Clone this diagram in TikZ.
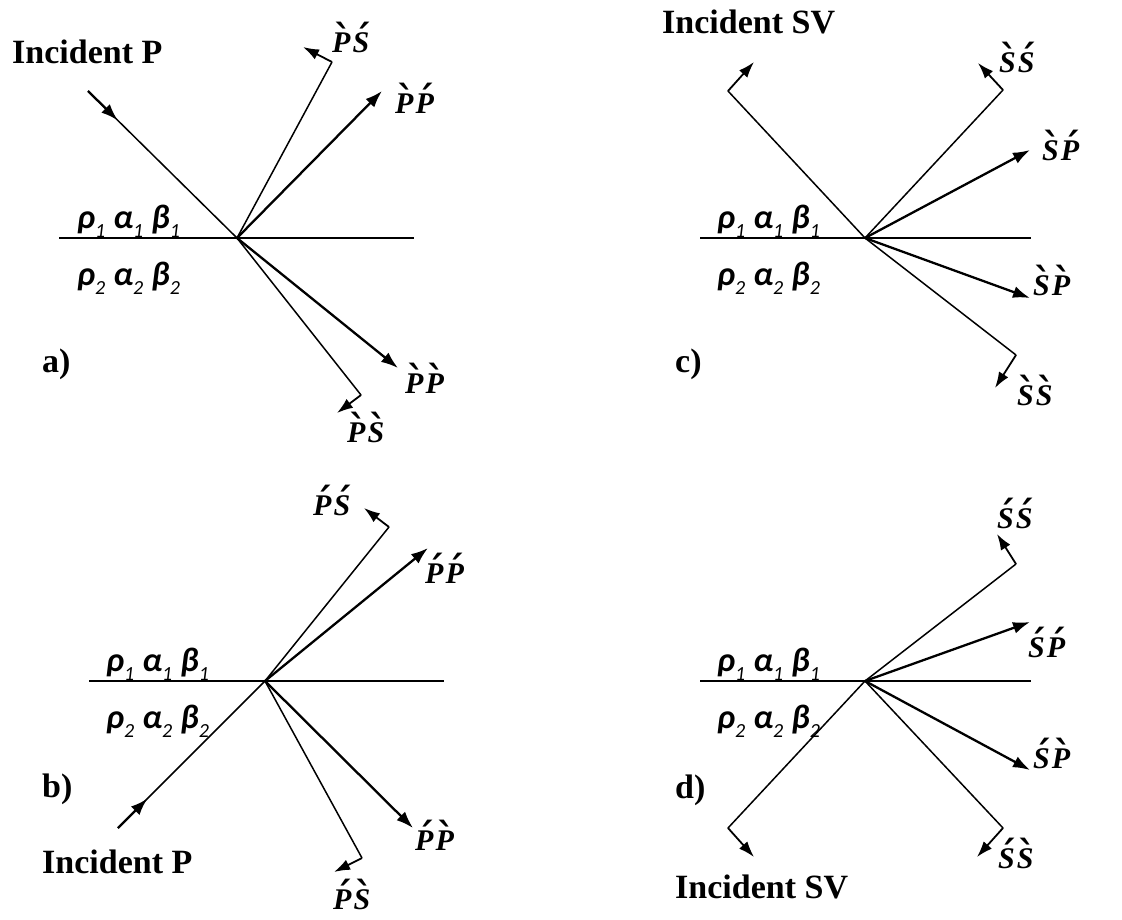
\documentclass[tikz,border=0pt]{standalone}
\usepackage{fontspec}
\setmainfont{Liberation Serif}
\newfontfamily\medfont{Carlito}
\newfontfamily\accfont{DejaVu Serif}
\usetikzlibrary{arrows.meta,calc}

\newcommand\wgr[1]{\ooalign{#1\cr\hidewidth\raisebox{-.02em}{\kern.12em\accfont\bfseries\upshape\fontsize{38}{38}\selectfont ˋ}\hidewidth\cr}}
\newcommand\wac[1]{\ooalign{#1\cr\hidewidth\raisebox{-.02em}{\kern.12em\accfont\bfseries\upshape\fontsize{38}{38}\selectfont ˊ}\hidewidth\cr}}
\newcommand\sub[2]{#1\raisebox{-.27em}{\fontsize{20}{20}\selectfont\mdseries #2}}
\newcommand\media[1]{\sub{ρ}{#1}\hspace{8pt}\sub{α}{#1}\hspace{8pt}\sub{β}{#1}}

\tikzset{wv/.style={x=1pt,y=-1pt}}
\tikzset{ray/.style={line width=1.5pt},
         beam/.style={line width=2.3pt,-{Latex[length=17pt,width=12pt]}},
         flip/.style={line width=1.8pt,-{Latex[length=16pt,width=11pt]}},
         hd/.style={font=\fontsize{34}{34}\selectfont\bfseries,inner sep=0pt,anchor=base west},
         wlab/.style={font=\fontsize{30}{30}\selectfont\bfseries\itshape,inner sep=0pt,anchor=base west},
         med/.style={font=\medfont\fontsize{34}{34}\selectfont\bfseries\itshape,inner sep=0pt,anchor=base west}}

\begin{document}
\begin{tikzpicture}[wv]
    \useasboundingbox (0,0) rectangle (1122,919);
    % a) incident P from above
    \coordinate (Oa) at (237,238);
    \coordinate (La) at (59,238);  \coordinate (Ra) at (414,238);
    \coordinate (Ia) at (88,91);
    \coordinate (PSra) at (332,62); \coordinate (PSta) at (303,47);
    \coordinate (PPra) at (382,91);
    \coordinate (PPta) at (398,368);
    \coordinate (PSda) at (361,395); \coordinate (PSea) at (337,413);
    \draw[ray] (La) -- (Ra);
    \draw[ray] (Ia) -- (Oa);
    \draw[beam] (Ia) -- ($(Ia)!0.2!(Oa)$);
    \draw[ray] (Oa) -- (PSra);  \draw[flip] (PSra) -- (PSta);
    \draw[beam] (Oa) -- (PPra);
    \draw[beam] (Oa) -- (PPta);
    \draw[ray] (Oa) -- (PSda);  \draw[flip] (PSda) -- (PSea);
    \node[hd] (inca) at (12,63) {Incident P};
    \node[wlab] (la1) at (332,52)  {\wgr{P}\kern2pt\wac{S}};
    \node[wlab] (la2) at (395,113) {\wgr{P}\kern2pt\wac{P}};
    \node[wlab] (la3) at (405,393) {\wgr{P}\kern2pt\wgr{P}};
    \node[wlab] (la4) at (347,442) {\wgr{P}\kern2pt\wgr{S}};

    % b) incident P from below
    \coordinate (Ob) at (265,681);
    \coordinate (Lb) at (89,681);  \coordinate (Rb) at (444,681);
    \coordinate (Ib) at (118,828);
    \coordinate (PSrb) at (389,527); \coordinate (PStb) at (364,508);
    \coordinate (PPrb) at (428,548);
    \coordinate (PPtb) at (413,828);
    \coordinate (PSdb) at (362,858); \coordinate (PSeb) at (334,872);
    \draw[ray] (Lb) -- (Rb);
    \draw[ray] (Ib) -- (Ob);
    \draw[beam] (Ib) -- ($(Ib)!0.2!(Ob)$);
    \draw[ray] (Ob) -- (PSrb);  \draw[flip] (PSrb) -- (PStb);
    \draw[beam] (Ob) -- (PPrb);
    \draw[beam] (Ob) -- (PPtb);
    \draw[ray] (Ob) -- (PSdb);  \draw[flip] (PSdb) -- (PSeb);
    \node[hd] (incb) at (42,873) {Incident P};
    \node[wlab] (lb1) at (313,515) {\wac{P}\kern2pt\wac{S}};
    \node[wlab] (lb2) at (425,583) {\wac{P}\kern2pt\wac{P}};
    \node[wlab] (lb3) at (415,850) {\wac{P}\kern2pt\wgr{P}};
    \node[wlab] (lb4) at (333,909) {\wac{P}\kern2pt\wgr{S}};

    % c) incident SV from above
    \coordinate (Oc) at (865,238);
    \coordinate (Lc) at (700,238);  \coordinate (Rc) at (1031,238);
    \coordinate (Ic) at (728,91);   \coordinate (Jc) at (754,62);
    \coordinate (SSrc) at (1003,90); \coordinate (SStc) at (978,63);
    \coordinate (SPrc) at (1030,150);
    \coordinate (SPtc) at (1030,298);
    \coordinate (SSdc) at (1016,355); \coordinate (SSec) at (995,388);
    \draw[ray] (Lc) -- (Rc);
    \draw[ray] (Oc) -- (Ic);  \draw[flip] (Ic) -- (Jc);
    \draw[ray] (Oc) -- (SSrc);  \draw[flip] (SSrc) -- (SStc);
    \draw[beam] (Oc) -- (SPrc);
    \draw[beam] (Oc) -- (SPtc);
    \draw[ray] (Oc) -- (SSdc);  \draw[flip] (SSdc) -- (SSec);
    \node[hd] (incc) at (662,33) {Incident SV};
    \node[wlab] (lc1) at (999,72)   {\wgr{S}\kern2pt\wac{S}};
    \node[wlab] (lc2) at (1042,160) {\wgr{S}\kern2pt\wac{P}};
    \node[wlab] (lc3) at (1033,295) {\wgr{S}\kern2pt\wgr{P}};
    \node[wlab] (lc4) at (1017,405) {\wgr{S}\kern2pt\wgr{S}};

    % d) incident SV from below
    \coordinate (Od) at (865,681);
    \coordinate (Ld) at (700,681);  \coordinate (Rd) at (1031,681);
    \coordinate (Id) at (728,828);  \coordinate (Jd) at (754,857);
    \coordinate (SSrd) at (1016,564); \coordinate (SStd) at (997,534);
    \coordinate (SPrd) at (1030,622);
    \coordinate (SPtd) at (1030,770);
    \coordinate (SSdd) at (1003,828); \coordinate (SSed) at (977,857);
    \draw[ray] (Ld) -- (Rd);
    \draw[ray] (Od) -- (Id);  \draw[flip] (Id) -- (Jd);
    \draw[ray] (Od) -- (SSrd);  \draw[flip] (SSrd) -- (SStd);
    \draw[beam] (Od) -- (SPrd);
    \draw[beam] (Od) -- (SPtd);
    \draw[ray] (Od) -- (SSdd);  \draw[flip] (SSdd) -- (SSed);
    \node[hd] (incd) at (675,898) {Incident SV};
    \node[wlab] (ld1) at (997,528)  {\wac{S}\kern2pt\wac{S}};
    \node[wlab] (ld2) at (1028,657) {\wac{S}\kern2pt\wac{P}};
    \node[wlab] (ld3) at (1033,768) {\wac{S}\kern2pt\wgr{P}};
    \node[wlab] (ld4) at (998,868)  {\wac{S}\kern2pt\wgr{S}};

    % panel tags and media
    \foreach \p/\x/\y in {a/42/372,b/42/797,c/675/372,d/675/798}
        \node[hd] (tag\p) at (\x,\y) {\p)};
    \foreach \p/\x/\y in {a/77/228,b/106/671,c/717/228,d/717/671} {
        \node[med] (up\p) at (\x,\y) {\media{1}};
        \node[med] (dn\p) at (\x,\y+57) {\media{2}};
    }
\end{tikzpicture}
\end{document}
